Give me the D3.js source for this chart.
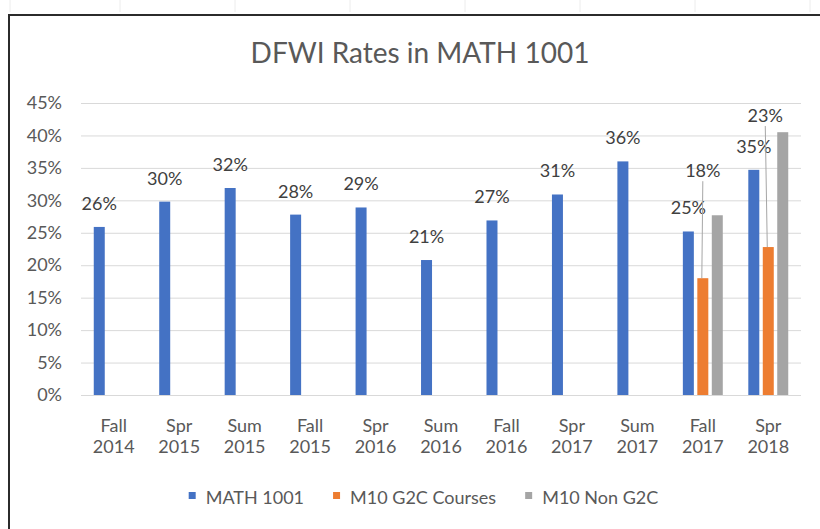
<!DOCTYPE html>
<html>
<head>
<meta charset="utf-8">
<script src="https://cdn.jsdelivr.net/npm/d3@7"></script>
<style>
  body { margin: 0; background: #fff; }
  text { font-family: Lato, "Open Sans", sans-serif; }
</style>
</head>
<body>
<script>
// Chart data
var categories = ["Fall 2014", "Spr 2015", "Sum 2015", "Fall 2015", "Spr 2016", "Sum 2016",
                  "Fall 2016", "Spr 2017", "Sum 2017", "Fall 2017", "Spr 2018"];
var seriesNames = ["MATH 1001", "M10 G2C Courses", "M10 Non G2C"];
var math1001 = [25.9, 29.8, 31.9, 27.8, 28.9, 20.8, 26.9, 30.9, 36.0, 25.2, 34.7];
var g2c      = [null, null, null, null, null, null, null, null, null, 18.0, 22.8];
var nonG2c   = [null, null, null, null, null, null, null, null, null, 27.7, 40.5];
var yTicks = [0, 5, 10, 15, 20, 25, 30, 35, 40, 45];

var colors = ["#4472C4", "#ED7D31", "#A5A5A5"];
var allSeries = [math1001, g2c, nonG2c];

var w = 820, h = 529;
var fs = "18px";

var svg = d3.select("body").append("svg")
    .attr("width", w)
    .attr("height", h);

// faint spreadsheet column marks above the chart frame
svg.selectAll(".colmark")
    .data([10, 120, 235, 350, 465, 580, 695, 810])
    .enter().append("line")
    .attr("x1", function(d){ return d; }).attr("x2", function(d){ return d; })
    .attr("y1", 0).attr("y2", 12)
    .style("stroke", "#ececec");

// chart frame (continues past the right and bottom edges)
svg.append("rect")
    .attr("x", 9).attr("y", 15)
    .attr("width", 840).attr("height", 540)
    .style("fill", "#fff")
    .style("stroke", "#2b2b2b")
    .style("stroke-width", 2);

// scales
var x0 = d3.scaleBand()
    .domain(categories)
    .range([81, 801])
    .paddingInner(0.39)
    .paddingOuter(0.195);

var x1 = d3.scaleBand()
    .domain([0, 1, 2])
    .range([0, x0.bandwidth()])
    .paddingInner(0.24);

var y = d3.scaleLinear()
    .domain([0, 45])
    .range([395, 103]);

// y axis with gridlines
var yAxis = svg.append("g")
    .attr("transform", "translate(81,0)")
    .call(d3.axisLeft(y)
        .tickValues(yTicks)
        .tickSize(-720)
        .tickPadding(19)
        .tickFormat(function(d){ return d + "%"; }));
yAxis.select(".domain").remove();
yAxis.selectAll("line").style("stroke", "#d9d9d9");
yAxis.selectAll("text")
    .style("fill", "#595959")
    .style("font-size", fs);

// x axis (two-line labels)
var xAxis = svg.append("g")
    .attr("transform", "translate(0,395)")
    .call(d3.axisBottom(x0).tickSize(0));
xAxis.select(".domain").remove();
xAxis.selectAll("text")
    .style("fill", "#595959")
    .style("font-size", fs)
    .attr("y", 37)
    .attr("dy", 0)
    .each(function(d){
        var t = d3.select(this);
        var parts = d.split(" ");
        t.text(null);
        parts.forEach(function(p, i){
            t.append("tspan")
                .attr("x", 0)
                .attr("dy", i ? 21 : 0)
                .text(p);
        });
    });

// bars
allSeries.forEach(function(vals, s){
    svg.selectAll(".bar" + s)
        .data(vals.map(function(v, i){ return { cat: categories[i], v: v }; })
                  .filter(function(d){ return d.v !== null; }))
        .enter().append("rect")
        .attr("class", "bar" + s)
        .attr("x", function(d){ return x0(d.cat) + x1(s); })
        .attr("width", x1.bandwidth())
        .attr("y", function(d){ return y(d.v); })
        .attr("height", function(d){ return y(0) - y(d.v); })
        .style("fill", colors[s]);
});

function barCenter(cat, s){ return x0(cat) + x1(s) + x1.bandwidth() / 2; }

// data labels for MATH 1001
svg.selectAll(".lab0")
    .data(math1001.map(function(v, i){ return { cat: categories[i], v: v }; }))
    .enter().append("text")
    .attr("class", "lab0")
    .attr("text-anchor", "middle")
    .attr("x", function(d){ return barCenter(d.cat, 0); })
    .attr("y", function(d){ return y(d.v) - 23.5; })
    .attr("dy", "0.36em")
    .style("font-size", fs)
    .style("fill", "#404040")
    .text(function(d){ return Math.round(d.v) + "%"; });

// data labels for G2C, moved up with leader lines
var g2cLift = [0, 0, 0, 0, 0, 0, 0, 0, 0, 108, 132];
var g2cShift = [0, 0, 0, 0, 0, 0, 0, 0, 0, 0, -3];
var g2cData = g2c.map(function(v, i){ return { cat: categories[i], v: v, lift: g2cLift[i], shift: g2cShift[i] }; })
    .filter(function(d){ return d.v !== null; });

svg.selectAll(".leader")
    .data(g2cData)
    .enter().append("line")
    .attr("x1", function(d){ return barCenter(d.cat, 1) + d.shift; })
    .attr("y1", function(d){ return y(d.v) - d.lift + 11; })
    .attr("x2", function(d){ return barCenter(d.cat, 1) - 1; })
    .attr("y2", function(d){ return y(d.v); })
    .style("stroke", "#a6a6a6")
    .style("stroke-width", 1);

svg.selectAll(".lab1")
    .data(g2cData)
    .enter().append("text")
    .attr("class", "lab1")
    .attr("text-anchor", "middle")
    .attr("x", function(d){ return barCenter(d.cat, 1) + d.shift; })
    .attr("y", function(d){ return y(d.v) - d.lift; })
    .attr("dy", "0.36em")
    .style("font-size", fs)
    .style("fill", "#404040")
    .text(function(d){ return Math.round(d.v) + "%"; });

// title
svg.append("text")
    .attr("x", 420)
    .attr("y", 63)
    .attr("text-anchor", "middle")
    .style("font-size", "28px")
    .style("fill", "#595959")
    .text("DFWI Rates in MATH 1001");

// legend, centred as a row
var legend = svg.append("g");
var lx = 0;
seriesNames.forEach(function(name, i){
    var g = legend.append("g").attr("transform", "translate(" + lx + ",0)");
    g.append("rect")
        .attr("x", 0).attr("y", 492)
        .attr("width", 7).attr("height", 7)
        .style("fill", colors[i]);
    var t = g.append("text")
        .attr("x", 17)
        .attr("y", 504)
        .style("font-size", fs)
        .style("fill", "#595959")
        .text(name);
    lx += 17 + t.node().getComputedTextLength() + 29;
});
var legendWidth = lx - 29;
legend.attr("transform", "translate(" + (423.5 - legendWidth / 2) + ",0)");
</script>
</body>
</html>
